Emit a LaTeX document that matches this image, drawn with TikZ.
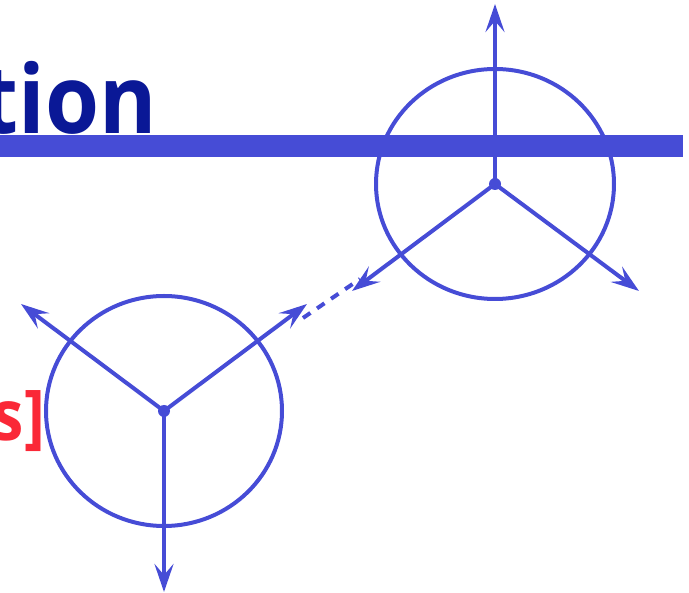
\documentclass[tikz,border=0pt]{standalone}
\usepackage{fontspec}
\setmainfont{Open Sans}
\usetikzlibrary{arrows.meta}
\definecolor{lineblue}{RGB}{70,76,214}
\definecolor{titleblue}{RGB}{10,24,150}
\definecolor{accred}{RGB}{250,40,55}
\begin{document}
\begin{tikzpicture}[x=1pt,y=-1pt,
  arr/.style={draw=lineblue,line width=4pt,-{Stealth[length=28pt,width=19pt,inset=11pt]}},
  ring/.style={draw=lineblue,line width=4pt},
  hub/.style={circle,fill=lineblue,minimum size=12pt,inner sep=0pt}]
\useasboundingbox (0,0) rectangle (689,593);
\clip (0,0) rectangle (689,593);
% title fragment and rule
\node[anchor=base east,inner sep=0pt,xscale=0.92,text=titleblue,font=\bfseries\fontsize{95}{95}\selectfont] (title) at (157,134) {tion};
\fill[lineblue] (0,135) rectangle (683,157);
% red fragment
\node[anchor=base east,inner sep=0pt,xscale=0.9,text=accred,font=\bfseries\fontsize{70}{70}\selectfont] (note) at (45,441) {’s]};
% upper wheel
\node[hub] (c1) at (495,184) {};
\draw[ring] (c1.center) ellipse [x radius=119pt, y radius=115pt];
\coordinate (u1) at (495,4);
\coordinate (u2) at (639,291);
\coordinate (u3) at (352,291);
\draw[arr] (c1.center) -- (u1);
\draw[arr] (c1.center) -- (u2);
\draw[arr] (c1.center) -- (u3);
% lower wheel
\node[hub] (c2) at (164,411) {};
\draw[ring] (c2.center) ellipse [x radius=118pt, y radius=115pt];
\coordinate (l1) at (164,592);
\coordinate (l2) at (21,304);
\coordinate (l3) at (307,304);
\draw[arr] (c2.center) -- (l1);
\draw[arr] (c2.center) -- (l2);
\draw[arr] (c2.center) -- (l3);
% dashed link
\coordinate (d1) at (303,318);
\coordinate (d2) at (360,279);
\draw[draw=lineblue,line width=4pt,dash pattern=on 9pt off 8pt] (d1) -- (d2);
\end{tikzpicture}
\end{document}
